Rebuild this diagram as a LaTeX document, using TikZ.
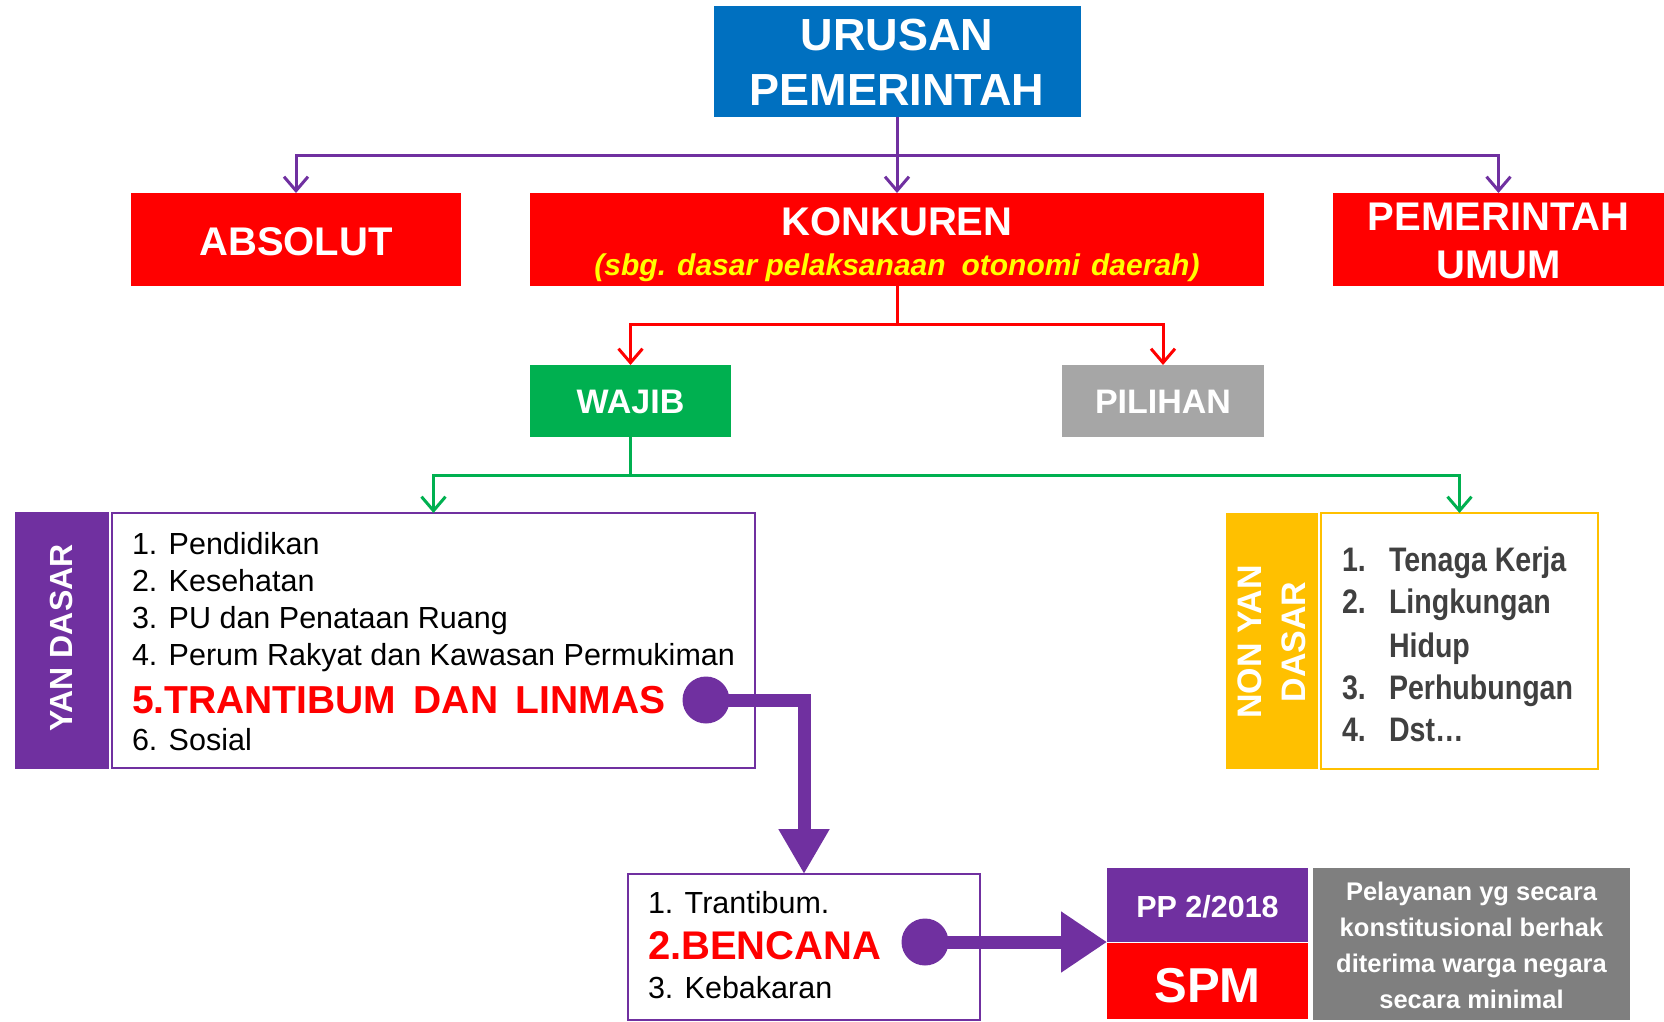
\documentclass[tikz,border=0pt]{standalone}
\usepackage{fontspec}
\setmainfont{Liberation Sans}
\newfontfamily\narrowfont[FakeStretch=0.84]{Liberation Sans}
\usetikzlibrary{arrows.meta}
\definecolor{cBlue}{HTML}{0070C0}
\definecolor{cRed}{HTML}{FF0000}
\definecolor{cPurple}{HTML}{7030A0}
\definecolor{cGreen}{HTML}{00B050}
\definecolor{cSilver}{HTML}{A6A6A6}
\definecolor{cGold}{HTML}{FFC000}
\definecolor{cGrey}{HTML}{7F7F7F}
\definecolor{cYellow}{HTML}{FFFF00}
\definecolor{cDark}{HTML}{404040}
\newcommand\fsz[2]{\fontsize{#1}{#2}\selectfont}
\begin{document}
\begin{tikzpicture}[x=1pt,y=-1pt,
  box/.style={rectangle, inner sep=0pt, outer sep=0pt},
  lbl/.style={inner sep=0pt, outer sep=0pt, text=white, anchor=base, font=\bfseries\fsz{40}{48}},
  tree/.style={line width=3pt, -{Straight Barb[length=14pt,width=24pt]}},
  fat/.style={draw=cPurple, line width=13pt},
  dot/.style={circle, fill=cPurple, inner sep=0pt, outer sep=0pt, minimum size=47pt},
  item/.style={anchor=base west, inner sep=0pt, outer sep=0pt, font=\fsz{30.5}{36}},
  bigitem/.style={anchor=base west, inner sep=0pt, outer sep=0pt, text=cRed, font=\bfseries\fsz{39}{44}},
  nitem/.style={anchor=base west, inner sep=0pt, outer sep=0pt, text=cDark, font=\narrowfont\bfseries\fsz{34}{40}},
  greytxt/.style={anchor=base, inner sep=0pt, outer sep=0pt, text=white, font=\bfseries\fsz{25.5}{36}},
]
\useasboundingbox (0,0) rectangle (1664,1021);
\fill[white] (0,0) rectangle (1664,1021);

% top level
\node[box, fill=cBlue, minimum width=367pt, minimum height=111pt] (urusan) at (897,61.5) {};
\node[lbl, font=\bfseries\fsz{45}{55}] (urusanA) at (897,50) {URUSAN};
\node[lbl, font=\bfseries\fsz{45}{55}] (urusanB) at (897,105) {PEMERINTAH};

\node[box, fill=cRed, minimum width=330pt, minimum height=93pt] (absolut) at (296,239.5) {};
\node[lbl] (absolutT) at (296,255) {ABSOLUT};

\node[box, fill=cRed, minimum width=734pt, minimum height=93pt] (konk) at (897,239.5) {};
\node[lbl] (konkT) at (897,235) {KONKUREN};
\node[lbl, text=cYellow, font=\bfseries\itshape\fsz{30}{36}] (konkS) at (897,275) {(sbg. dasar pelaksanaan\hspace{0.25em} otonomi\hspace{0.1em} daerah)};

\node[box, fill=cRed, minimum width=331pt, minimum height=93pt] (pemum) at (1498.5,239.5) {};
\node[lbl] (pemumA) at (1498.5,230) {PEMERINTAH};
\node[lbl] (pemumB) at (1498.5,278) {UMUM};

% second level
\node[box, fill=cGreen, minimum width=201pt, minimum height=72pt] (wajib) at (630.5,401) {};
\node[lbl, font=\bfseries\fsz{34}{40}] (wajibT) at (630.5,413) {WAJIB};
\node[box, fill=cSilver, minimum width=202pt, minimum height=72pt] (pilihan) at (1163,401) {};
\node[lbl, font=\bfseries\fsz{34}{40}] (pilihanT) at (1163,413) {PILIHAN};

% third level
\node[box, fill=cPurple, minimum width=94pt, minimum height=257pt] (yanlab) at (62,640.5) {};
\node[inner sep=0pt, text=white, font=\bfseries\fsz{32}{40}, rotate=90] (yanlabT) at (61,638) {YAN DASAR};
\node[box, draw=cPurple, line width=2.5pt, minimum width=643pt, minimum height=255pt] (yanbox) at (433.5,640.5) {};

\node[item] (y1) at (132,554) {1. Pendidikan};
\node[item] (y2) at (132,591) {2. Kesehatan};
\node[item] (y3) at (132,628) {3. PU dan Penataan Ruang};
\node[item] (y4) at (132,665) {4. Perum Rakyat dan Kawasan Permukiman};
\node[bigitem] (y5) at (132,713) {5.TRANTIBUM\hspace{0.45em}DAN\hspace{0.45em}LINMAS};
\node[item] (y6) at (132,750) {6. Sosial};

\node[box, fill=cGold, minimum width=92pt, minimum height=256pt] (nonlab) at (1272,641) {};
\node[inner sep=0pt, text=white, align=center, font=\bfseries\fsz{34}{44.5}, rotate=90] (nonlabT) at (1272,642) {NON YAN\\DASAR};
\node[box, draw=cGold, line width=2.5pt, minimum width=277pt, minimum height=256pt] (nonbox) at (1459.5,641) {};

\node[nitem] (n1) at (1342,571) {\makebox[47pt][l]{1.}Tenaga Kerja};
\node[nitem] (n2) at (1342,613) {\makebox[47pt][l]{2.}Lingkungan};
\node[nitem] (n2b) at (1389,657) {Hidup};
\node[nitem] (n3) at (1342,699) {\makebox[47pt][l]{3.}Perhubungan};
\node[nitem] (n4) at (1342,741) {\makebox[47pt][l]{4.}Dst…};

% bottom
\node[box, draw=cPurple, line width=2pt, minimum width=352pt, minimum height=146pt] (botbox) at (804,947) {};
\node[item] (b1) at (648,913) {1. Trantibum.};
\node[bigitem, font=\bfseries\fsz{40}{44}] (b2) at (648,959) {2.BENCANA};
\node[item] (b3) at (648,998) {3. Kebakaran};

\node[box, fill=cPurple, minimum width=201pt, minimum height=74pt] (pp) at (1207.5,905) {};
\node[lbl, font=\bfseries\fsz{30.5}{36}] (ppT) at (1207.5,917) {PP 2/2018};
\node[box, fill=cRed, minimum width=201pt, minimum height=76pt] (spm) at (1207.5,981) {};
\node[lbl, font=\bfseries\fsz{49}{56}] (spmT) at (1207.5,1002) {SPM};
\node[box, fill=cGrey, minimum width=317pt, minimum height=152pt] (grey) at (1471.5,944) {};
\node[greytxt] (gA) at (1471.5,900) {Pelayanan yg secara};
\node[greytxt] (gB) at (1471.5,936) {konstitusional berhak};
\node[greytxt] (gC) at (1471.5,972) {diterima warga negara};
\node[greytxt] (gD) at (1471.5,1008) {secara minimal};

% thin connectors
\coordinate (hub1) at (897,155);
\coordinate (hub2) at (897,324);
\coordinate (hub3) at (630.5,475);
\draw[tree, cPurple] (urusan.south) -- (konk.north);
\draw[tree, cPurple] (hub1) -| (absolut.north);
\draw[tree, cPurple] (hub1) -| (pemum.north);
\draw[tree, cRed] (konk.south) -- (hub2) -| (wajib.north);
\draw[tree, cRed] (hub2) -| (pilihan.north);
\draw[tree, cGreen] (wajib.south) -- (hub3) -| (yanbox.north);
\draw[tree, cGreen] (hub3) -| (nonbox.north);

% thick connectors
\node[dot] (c1) at (706,700) {};
\node[dot] (c2) at (925,942) {};
\draw[fat, line join=miter, -{Triangle[length=45pt,width=48pt]}] (c1.center) -| (botbox.north);
\draw[fat, -{Triangle[length=46pt,width=58pt]}] (c2.center) -- (pp.south west);
\end{tikzpicture}
\end{document}
